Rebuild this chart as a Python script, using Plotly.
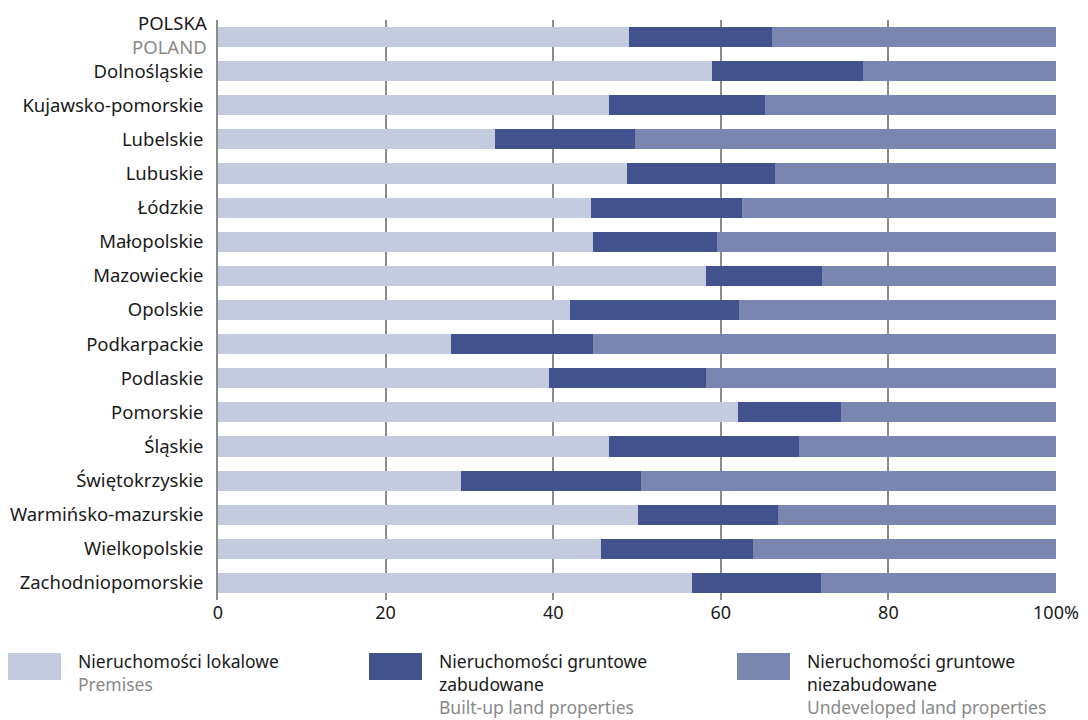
import plotly.graph_objects as go

# Voivodeships (top to bottom) and the share of each property type, in %
regions = [
    "POLSKA", "Dolnośląskie", "Kujawsko-pomorskie", "Lubelskie", "Lubuskie",
    "Łódzkie", "Małopolskie", "Mazowieckie", "Opolskie", "Podkarpackie",
    "Podlaskie", "Pomorskie", "Śląskie", "Świętokrzyskie",
    "Warmińsko-mazurskie", "Wielkopolskie", "Zachodniopomorskie",
]
country_en = "POLAND"
premises = [49.1, 58.9, 46.6, 33.1, 48.8, 44.5, 44.8, 58.2, 42.0, 27.8,
            39.5, 62.0, 46.6, 29.0, 50.1, 45.7, 56.6]
built_up = [17.0, 18.1, 18.7, 16.7, 17.7, 18.0, 14.7, 13.9, 20.2, 17.0,
            18.7, 12.4, 22.7, 21.5, 16.7, 18.1, 15.4]
undeveloped = [round(100 - p - b, 1) for p, b in zip(premises, built_up)]

x_ticks = [0, 20, 40, 60, 80, 100]
x_tick_text = ["0", "20", "40", "60", "80", "100%"]

series = [
    ("Nieruchomości lokalowe", "Premises", premises, "#c5cbdf"),
    ("Nieruchomości gruntowe<br>zabudowane", "Built-up land properties", built_up, "#41528c"),
    ("Nieruchomości gruntowe<br>niezabudowane", "Undeveloped land properties", undeveloped, "#7a86b0"),
]

FONT = "Noto Sans"
TEXT = "#1a1a1a"
GREY = "#8a8a8a"

fig = go.Figure()
for name, name_en, vals, color in series:
    fig.add_trace(go.Bar(
        y=regions, x=vals, orientation="h", name=name,
        marker=dict(color=color, line=dict(width=0)),
        width=0.59, showlegend=False,
    ))

# Country total gets a two-line bilingual label, nudged up a little
fig.add_annotation(
    xref="paper", yref="y", x=0, y=regions[0], xshift=-9, yshift=3,
    xanchor="right", yanchor="middle", align="right", showarrow=False,
    text=regions[0] + "<br><span style='color:" + GREY + "'>" + country_en + "</span>",
    font=dict(family=FONT, size=18.5, color=TEXT),
)

# Custom legend: swatch + Polish label + grey English label
legend_x = [8, 369, 737]
for (name, name_en, vals, color), lx in zip(series, legend_x):
    fig.add_shape(type="rect", xref="paper", yref="paper",
                  x0=(lx - 218) / 838, x1=(lx + 53 - 218) / 838,
                  y0=(600 - 680) / 580, y1=(600 - 653) / 580,
                  fillcolor=color, line=dict(width=0), layer="above")
    fig.add_annotation(
        xref="paper", yref="paper",
        x=(lx + 68 - 218) / 838, y=(600 - 647) / 580,
        xanchor="left", yanchor="top", align="left", showarrow=False,
        text=name + "<br><span style='color:" + GREY + "'>" + name_en + "</span>",
        font=dict(family=FONT, size=17.5, color=TEXT),
    )

fig.update_layout(
    width=1088, height=720,
    margin=dict(l=218, r=32, t=20, b=120, autoexpand=False),
    barmode="stack", bargap=0.41,
    plot_bgcolor="white", paper_bgcolor="white",
    font=dict(family=FONT, size=18, color=TEXT),
    xaxis=dict(
        range=[0, 100], tickvals=x_ticks, ticktext=x_tick_text,
        showgrid=True, gridcolor="#8c8c8c", gridwidth=1.5,
        zeroline=False, showline=False, ticks="",
        tickfont=dict(family=FONT, size=18, color=TEXT),
        automargin=False, fixedrange=True,
    ),
    yaxis=dict(
        type="category", range=[len(regions) - 0.5, -0.5],
        showgrid=False, ticks="", ticklabelstandoff=9,
        tickvals=regions, ticktext=[""] + regions[1:],
        tickfont=dict(family=FONT, size=18.5, color=TEXT),
        showline=True, linecolor="#8c8c8c", linewidth=1.5,
        automargin=False, fixedrange=True,
    ),
)

fig.write_html("out.html")
